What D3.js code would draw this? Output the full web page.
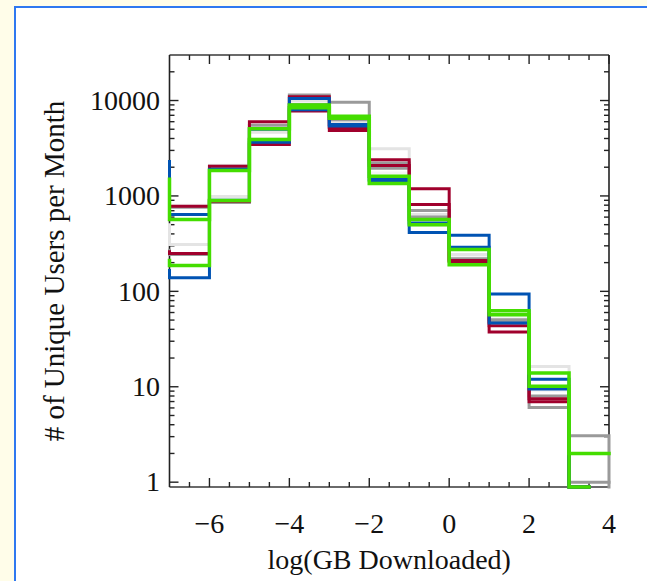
<!DOCTYPE html>
<html>
<head>
<meta charset="utf-8">
<script src="https://cdn.jsdelivr.net/npm/d3@7"></script>
<style>
  body { margin: 0; background: #fffde9; }
  svg { display: block; }
  text { font-family: "Liberation Serif", "Times New Roman", serif; fill: #111; }
</style>
</head>
<body>
<svg id="svgelement" width="647" height="581"></svg>
<script>
	var width = 647;
	var height = 581;

	// bin left edges, log(GB): first bin sits left of the axis and only shows as the edge step
	var binEdges = [-8, -7, -6, -5, -4, -3, -2, -1, 0, 1, 2, 3, 4];

	// users per month in each bin, one array per month
	// 0 = empty bin (line drops to the floor), null = no more bins
	var blueA  = [2300, 638, 1900, 3650, 8000, 5400, 1490, 521, 290, 46.6, 9.5, 0, null];
	var blueB  = [165, 139, 900, 5000, 10500, 5600, 1450, 415, 387, 94, 12.0, 0, null];
	var redA   = [1500, 780, 2050, 3460, 7750, 4850, 2090, 815, 205, 43.7, 6.96, 0, null];
	var redB   = [260, 250, 880, 6000, 10960, 5200, 2400, 1190, 210, 37.5, 7.5, 0, null];
	var grayA  = [270, 243, 855, 5500, 11400, 9620, 2220, 703, 215, 50.5, 6.07, 3.06, 0];
	var grayB  = [1200, 760, 2050, 3800, 9100, 6300, 1950, 600, 220, 48, 8, 1.0, null];
	var whiteA = [500, 309, 985, 4650, 9860, 5900, 3120, 638, 243, 57, 16.3, 0, null];
	var whiteB = [2000, 800, 2100, 4000, 8800, 6000, 1740, 493, 230, 52, 9.1, 0, null];
	var greenB = [210, 187, 895, 5050, 9000, 6500, 1610, 500, 274, 57, 10.1, 2.0, null];
	var greenA = [1500, 565, 1850, 3900, 8400, 6860, 1350, 565, 190, 62.7, 13.9, 0, null];

	var series = [
		{vals: whiteB, color: "#f4f4f4", w: 3},
		{vals: whiteA, color: "#e4e4e4", w: 3},
		{vals: grayB,  color: "#9a9a9a", w: 3},
		{vals: grayA,  color: "#9a9a9a", w: 3},
		{vals: redA,   color: "#a0002c", w: 3},
		{vals: redB,   color: "#a0002c", w: 3},
		{vals: blueA,  color: "#0053b3", w: 3},
		{vals: blueB,  color: "#0053b3", w: 3},
		{vals: greenB, color: "#44dd00", w: 3.5},
		{vals: greenA, color: "#44dd00", w: 3.5}
	];

	var xTicks = [-6, -4, -2, 0, 2, 4];
	var yTicks = [1, 10, 100, 1000, 10000];
	var yLabels = ["1", "10", "100", "1000", "10000"];

	var plotL = 169.5, plotR = 609, plotT = 55, plotB = 487;
	var yMin = 0.89, yMax = 30000;

	var x = d3.scaleLinear().domain([-7, 4]).range([plotL, plotR]).clamp(true);
	var y = d3.scaleLog().domain([yMin, yMax]).range([plotB, plotT]);

	var svg = d3.select("#svgelement");

	svg.append("rect").attr("width", width).attr("height", height).attr("fill", "#fffde9");
	svg.append("rect").attr("x", 15).attr("y", 7).attr("width", width).attr("height", height)
		.attr("fill", "#ffffff").attr("stroke", "#2f78f0").attr("stroke-width", 2);

	// axes box
	var ax = svg.append("g");
	ax.append("line").attr("x1", plotL).attr("x2", plotR).attr("y1", plotB).attr("y2", plotB)
		.attr("stroke", "#6a6a6a").attr("stroke-width", 2);
	ax.append("line").attr("x1", plotL).attr("x2", plotR).attr("y1", plotT).attr("y2", plotT)
		.attr("stroke", "#6a6a6a").attr("stroke-width", 2);
	ax.append("line").attr("x1", plotL).attr("x2", plotL).attr("y1", plotT).attr("y2", plotB)
		.attr("stroke", "#222").attr("stroke-width", 1.6);
	ax.append("line").attr("x1", plotR).attr("x2", plotR).attr("y1", plotT).attr("y2", plotB)
		.attr("stroke", "#222").attr("stroke-width", 1.6);

	// x ticks: majors every 2, minors every 0.5, on bottom and top
	var xMinor = d3.range(-6.5, 4, 0.5).filter(function(d){ return xTicks.indexOf(d) < 0; });
	[plotB, plotT].forEach(function(edge) {
		var dir = edge == plotB ? -1 : 1;
		ax.selectAll(null).data(xTicks).enter().append("line")
			.attr("x1", function(d){ return x(d); }).attr("x2", function(d){ return x(d); })
			.attr("y1", edge).attr("y2", edge + dir*9)
			.attr("stroke", "#222").attr("stroke-width", 1.4);
		ax.selectAll(null).data(xMinor).enter().append("line")
			.attr("x1", function(d){ return x(d); }).attr("x2", function(d){ return x(d); })
			.attr("y1", edge).attr("y2", edge + dir*5)
			.attr("stroke", "#222").attr("stroke-width", 1.4);
	});

	// y ticks: decades plus 2..9 minors, on left and right
	var yMinor = [];
	[1, 10, 100, 1000, 10000].forEach(function(dec) {
		for (var k = 2; k <= 9; k++) if (dec*k < yMax) yMinor.push(dec*k);
	});
	[plotL, plotR].forEach(function(edge) {
		var dir = edge == plotL ? 1 : -1;
		ax.selectAll(null).data(yTicks).enter().append("line")
			.attr("y1", function(d){ return y(d); }).attr("y2", function(d){ return y(d); })
			.attr("x1", edge).attr("x2", edge + dir*9)
			.attr("stroke", "#222").attr("stroke-width", 1.4);
		ax.selectAll(null).data(yMinor).enter().append("line")
			.attr("y1", function(d){ return y(d); }).attr("y2", function(d){ return y(d); })
			.attr("x1", edge).attr("x2", edge + dir*5)
			.attr("stroke", "#222").attr("stroke-width", 1.4);
	});

	// tick labels
	svg.selectAll(null).data(xTicks).enter().append("text")
		.attr("x", function(d){ return x(d); }).attr("y", 533)
		.attr("text-anchor", "middle").attr("font-size", 28)
		.text(function(d){ return d < 0 ? "\u2212" + (-d) : d; });
	svg.selectAll(null).data(yTicks).enter().append("text")
		.attr("x", 160).attr("y", function(d){ return y(d); }).attr("dy", "0.33em")
		.attr("text-anchor", "end").attr("font-size", 28)
		.text(function(d, i){ return yLabels[i]; });

	svg.append("text").attr("x", (plotL + plotR)/2).attr("y", 569)
		.attr("text-anchor", "middle").attr("font-size", 28)
		.text("log(GB Downloaded)");
	svg.append("text")
		.attr("transform", "translate(64," + ((plotT + plotB)/2) + ") rotate(-90)")
		.attr("text-anchor", "middle").attr("font-size", 29)
		.text("# of Unique Users per Month");

	// histogram steps; a drop to an empty bin is drawn half width, like IDL psym=10
	function stepPoints(vals) {
		var pts = [];
		for (var i = 0; i < vals.length && vals[i] !== null; i++) {
			pts.push([binEdges[i], vals[i]]);
			if (vals[i] === 0) break;
		}
		var k = pts.length - 1;
		var lastX = pts[k][1] === 0 ? binEdges[k] + 0.5 : binEdges[k] + 1;
		pts.push([lastX, pts[k][1]]);
		return pts;
	}

	var line = d3.line()
		.x(function(d){ return x(d[0]); })
		.y(function(d){ return y(Math.max(d[1], yMin)); })
		.curve(d3.curveStepAfter);

	svg.append("g").selectAll("path").data(series).enter().append("path")
		.attr("d", function(s){ return line(stepPoints(s.vals)); })
		.attr("fill", "none")
		.attr("stroke", function(s){ return s.color; })
		.attr("stroke-width", function(s){ return s.w; })
		.attr("stroke-linejoin", "miter")
		.attr("stroke-linecap", "square");
</script>
</body>
</html>
